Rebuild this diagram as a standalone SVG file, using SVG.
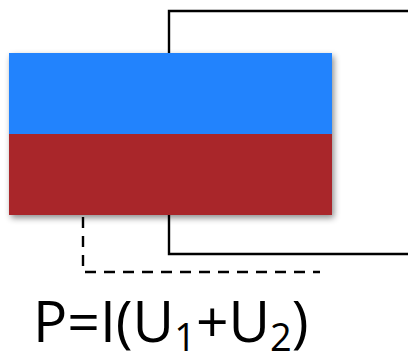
<svg xmlns="http://www.w3.org/2000/svg" width="408" height="361" viewBox="0 0 408 361">
<style>
.wire{fill:none;stroke:#000;stroke-width:2.4}
.dash{fill:none;stroke:#000;stroke-width:2.4;stroke-dasharray:11 8}
.lbl{font-family:"Open Sans","Liberation Sans",sans-serif;font-size:57px;fill:#000}
.sub{font-size:38px}
</style>
<defs>
<filter id="sh" x="-10%" y="-10%" width="125%" height="130%">
<feDropShadow dx="2" dy="3" stdDeviation="3" flood-color="#000" flood-opacity="0.45"/>
</filter>
</defs>
<g id="connectors">
<path class="wire" d="M169 53 V11 H408"/>
<path class="wire" d="M169 214 V254 H408"/>
<path class="dash" d="M83 217 V272 H320"/>
</g>
<g id="cell" filter="url(#sh)">
<rect x="9" y="53" width="323" height="81" fill="#2483fd"/>
<rect x="9" y="134" width="323" height="81" fill="#a92529"/>
</g>
<g id="formula">
<text class="lbl" x="33" y="342">P=I(U<tspan class="sub" dy="9">1</tspan><tspan dy="-9">+U</tspan><tspan class="sub" dy="9">2</tspan><tspan dy="-9">)</tspan></text>
</g>
</svg>
